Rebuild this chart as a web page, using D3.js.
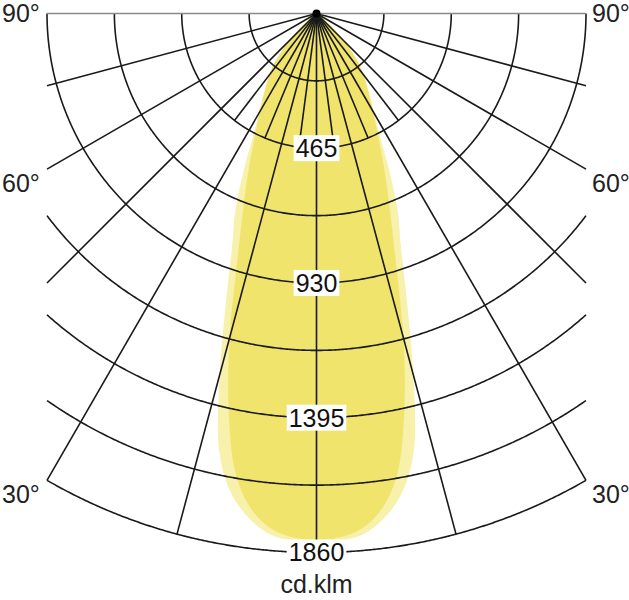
<!DOCTYPE html>
<html><head><meta charset="utf-8">
<script src="https://cdn.jsdelivr.net/npm/d3@7"></script>
<style>html,body{margin:0;padding:0;background:#fff;}svg{display:block}</style>
</head><body>
<svg id="chart" width="629" height="600"></svg>
<script>
// ---- data ----
const gammaAngles    = [0, 2.5, 5, 7.5, 10, 12.5, 15, 17.5, 20, 22.5, 25, 27.5, 30, 35, 40, 45, 50, 55, 60];
const intensityOuter = [1826, 1822, 1806, 1760, 1685, 1550, 1290, 1036, 850, 730, 590, 470, 400, 305, 230, 135, 55, 15, 0];
const intensityInner = [1819, 1810, 1785, 1725, 1610, 1400, 1160, 917, 750, 630, 530, 450, 390, 300, 230, 135, 55, 15, 0];
const ringValues  = [232.5, 465, 697.5, 930, 1162.5, 1395, 1627.5, 1860];
const ringLabels  = [465, 930, 1395, 1860];
const majorAngles = [-90, -75, -60, -45, -30, -15, 0, 15, 30, 45, 60, 75, 90];
const minorAngles = [-37.5, -22.5, -7.5, 7.5, 22.5, 37.5];
const sideLabels  = ["90°", "60°", "30°"];
const unitLabel   = "cd.klm";

// ---- layout ----
const W = 629, H = 600;
const cx = 316.5, cy = 13.5;
const maxVal = 1860, maxR = 539;
const boundVal = 930;          // side boundary = radius of 930 ring
const font = "'Liberation Sans', Arial, Helvetica, sans-serif";
const fs = 25;

const svg = d3.select("#chart");
const r = d3.scaleLinear().domain([0, maxVal]).range([0, maxR]);
const rad = d => d * Math.PI / 180;
const R4 = r(boundVal);

const g = svg.append("g").attr("transform", `translate(${cx},${cy})`);

// radial line generator: theta = degrees from nadir (positive to right)
const radial = d3.lineRadial()
  .angle(d => Math.PI - rad(d[0]))
  .radius(d => d[1]);

// ---- beam shapes ----
function beamPoints(vals) {
  const pts = [];
  for (let i = gammaAngles.length - 1; i >= 0; i--) pts.push([-gammaAngles[i], r(vals[i])]);
  for (let i = 1; i < gammaAngles.length; i++) pts.push([gammaAngles[i], r(vals[i])]);
  return pts;
}
const beamLine = d3.lineRadial()
  .angle(d => Math.PI - rad(d[0]))
  .radius(d => d[1])
  .curve(d3.curveCatmullRom.alpha(0.5));

g.append("path").attr("d", beamLine(beamPoints(intensityOuter)) + "Z")
  .attr("fill", "#f7f1ab").attr("stroke", "none");
g.append("path").attr("d", beamLine(beamPoints(intensityInner)) + "Z")
  .attr("fill", "#f1e46c").attr("stroke", "none");

// ---- rings ----
const gridStroke = "#1a1a1a", gridW = 1.6;
ringValues.forEach(v => {
  const rr = r(v);
  const tmax = rr <= R4 + 0.01 ? 90 : Math.asin(R4 / rr) * 180 / Math.PI;
  const pts = d3.range(-tmax, tmax + 0.001, tmax / 180).map(t => [t, rr]);
  g.append("path").attr("d", radial(pts))
    .attr("fill", "none").attr("stroke", gridStroke).attr("stroke-width", gridW);
});

// ---- radial lines ----
majorAngles.forEach(a => {
  const A = Math.abs(a);
  const end = A <= 30 ? maxR : R4 / Math.sin(rad(A));
  const horiz = A === 90;
  g.append("path").attr("d", radial([[a, 0], [a, end]]))
    .attr("fill", "none")
    .attr("stroke", horiz ? "#8a8a8a" : gridStroke)
    .attr("stroke-width", horiz ? 1.3 : gridW);
});
minorAngles.forEach(a => {
  g.append("path").attr("d", radial([[a, 0], [a, r(465)]]))
    .attr("fill", "none").attr("stroke", gridStroke).attr("stroke-width", gridW);
});
g.append("circle").attr("r", 4).attr("fill", "#000");

// ---- ring labels ----
ringLabels.forEach(v => {
  const lg = g.append("g");
  const t = lg.append("text")
    .attr("x", 0).attr("y", r(v) + fs * 0.358)
    .attr("text-anchor", "middle")
    .attr("font-family", font).attr("font-size", fs).attr("fill", "#111")
    .text(v);
  const bb = t.node().getBBox();
  lg.insert("rect", "text")
    .attr("x", bb.x - 2).attr("y", bb.y + 1)
    .attr("width", bb.width + 4).attr("height", bb.height - 2)
    .attr("fill", "#fff");
});

// ---- side labels ----
const sideY = [22, 192, 503];
sideLabels.forEach((s, i) => {
  svg.append("text").attr("x", 2).attr("y", sideY[i])
    .attr("font-family", font).attr("font-size", fs).attr("fill", "#222").text(s);
  svg.append("text").attr("x", 592).attr("y", sideY[i])
    .attr("font-family", font).attr("font-size", fs).attr("fill", "#222").text(s);
});

svg.append("text").attr("x", cx).attr("y", 593)
  .attr("text-anchor", "middle")
  .attr("font-family", font).attr("font-size", fs).attr("fill", "#222")
  .text(unitLabel);
</script>
</body></html>
